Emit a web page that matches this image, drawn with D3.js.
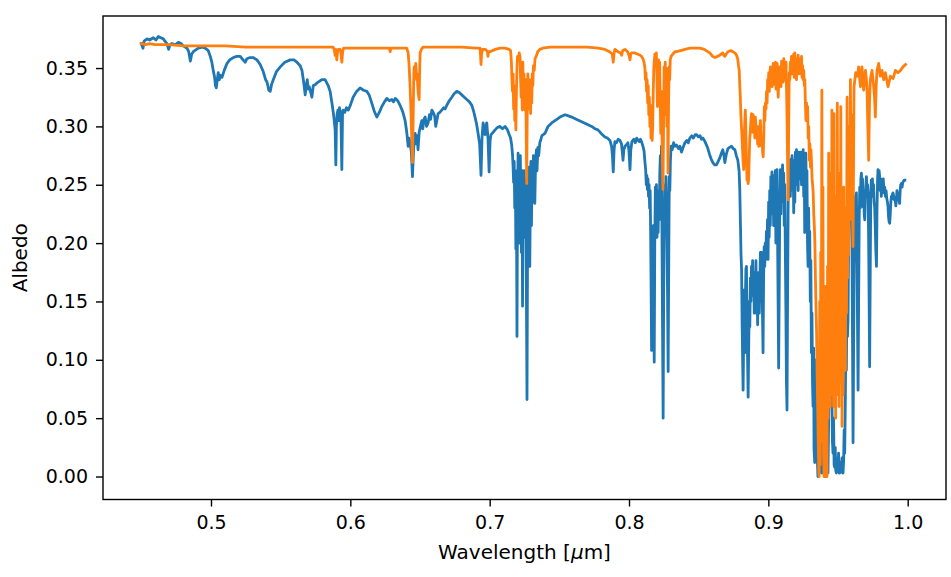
<!DOCTYPE html>
<html>
<head>
<meta charset="utf-8">
<script src="https://cdn.jsdelivr.net/npm/d3@7"></script>
<style>
  body { margin: 0; background: #ffffff; }
  svg text { font-family: "DejaVu Sans", sans-serif; fill: #000; }
</style>
</head>
<body>
<svg id="chart" width="951" height="577"></svg>
<script>
// Reflectance spectra: [wavelength in µm, albedo]
const spectrumBlue = [
  [0.4500,0.371],[0.4512,0.367],[0.4520,0.373],[0.4541,0.375],[0.4560,0.374],[0.4586,0.376],[0.4605,0.374],
  [0.4622,0.377],[0.4640,0.376],[0.4658,0.375],[0.4670,0.373],[0.4684,0.371],[0.4696,0.366],[0.4706,0.370],
  [0.4720,0.371],[0.4745,0.370],[0.4766,0.372],[0.4785,0.371],[0.4801,0.369],[0.4828,0.367],[0.4840,0.364],
  [0.4852,0.356],[0.4862,0.362],[0.4873,0.364],[0.4909,0.367],[0.4935,0.368],[0.4959,0.367],[0.4980,0.365],
  [0.4995,0.360],[0.5006,0.355],[0.5016,0.348],[0.5026,0.342],[0.5032,0.335],[0.5038,0.333],[0.5045,0.340],
  [0.5052,0.346],[0.5060,0.340],[0.5066,0.344],[0.5079,0.342],[0.5095,0.348],[0.5115,0.354],[0.5135,0.357],
  [0.5160,0.359],[0.5185,0.360],[0.5210,0.360],[0.5230,0.357],[0.5246,0.355],[0.5258,0.358],[0.5280,0.359],
  [0.5303,0.359],[0.5330,0.357],[0.5353,0.353],[0.5375,0.347],[0.5392,0.340],[0.5402,0.338],[0.5415,0.331],
  [0.5425,0.330],[0.5435,0.336],[0.5447,0.340],[0.5470,0.347],[0.5497,0.351],[0.5530,0.355],[0.5569,0.357],
  [0.5595,0.357],[0.5617,0.355],[0.5640,0.352],[0.5653,0.348],[0.5665,0.338],[0.5676,0.327],[0.5683,0.335],
  [0.5691,0.340],[0.5698,0.332],[0.5705,0.334],[0.5714,0.330],[0.5724,0.325],[0.5734,0.335],[0.5750,0.336],
  [0.5769,0.338],[0.5795,0.340],[0.5819,0.340],[0.5841,0.335],[0.5855,0.330],[0.5868,0.320],[0.5880,0.310],
  [0.5891,0.297],[0.5896,0.267],[0.5900,0.300],[0.5905,0.310],[0.5911,0.314],[0.5917,0.305],[0.5922,0.316],
  [0.5927,0.313],[0.5933,0.305],[0.5939,0.263],[0.5944,0.310],[0.5949,0.314],[0.5960,0.312],[0.5972,0.316],
  [0.5985,0.314],[0.6000,0.318],[0.6020,0.325],[0.6045,0.330],[0.6070,0.333],[0.6095,0.331],[0.6119,0.330],
  [0.6135,0.327],[0.6154,0.320],[0.6172,0.313],[0.6190,0.308],[0.6208,0.312],[0.6226,0.317],[0.6245,0.321],
  [0.6262,0.324],[0.6280,0.322],[0.6298,0.323],[0.6310,0.321],[0.6322,0.324],[0.6340,0.322],[0.6357,0.318],
  [0.6375,0.313],[0.6393,0.305],[0.6405,0.295],[0.6415,0.283],[0.6422,0.290],[0.6429,0.286],[0.6438,0.278],
  [0.6446,0.257],[0.6452,0.275],[0.6458,0.290],[0.6465,0.294],[0.6472,0.285],[0.6479,0.292],[0.6486,0.280],
  [0.6494,0.295],[0.6503,0.300],[0.6513,0.305],[0.6520,0.298],[0.6528,0.306],[0.6537,0.308],[0.6547,0.300],
  [0.6558,0.303],[0.6568,0.310],[0.6576,0.306],[0.6585,0.314],[0.6595,0.312],[0.6605,0.309],[0.6613,0.300],
  [0.6621,0.305],[0.6630,0.311],[0.6642,0.312],[0.6656,0.314],[0.6670,0.316],[0.6680,0.315],[0.6692,0.318],
  [0.6710,0.322],[0.6728,0.325],[0.6745,0.328],[0.6764,0.330],[0.6782,0.329],[0.6800,0.327],[0.6818,0.325],
  [0.6836,0.323],[0.6855,0.321],[0.6872,0.318],[0.6885,0.313],[0.6895,0.308],[0.6906,0.302],[0.6917,0.294],
  [0.6928,0.285],[0.6938,0.258],[0.6945,0.290],[0.6953,0.303],[0.6960,0.298],[0.6967,0.293],[0.6973,0.300],
  [0.6979,0.303],[0.6988,0.290],[0.6996,0.261],[0.7003,0.288],[0.7010,0.293],[0.7025,0.295],[0.7039,0.297],
  [0.7055,0.299],[0.7074,0.300],[0.7092,0.298],[0.7110,0.300],[0.7128,0.297],[0.7140,0.293],
  // 0.72 µm band
  [0.7150,0.290],[0.7158,0.284],[0.7164,0.276],[0.7168,0.266],[0.7172,0.252],[0.7176,0.270],[0.7180,0.230],
  [0.7184,0.262],[0.7188,0.195],[0.7192,0.250],[0.7196,0.120],[0.7200,0.240],[0.7204,0.277],[0.7208,0.210],
  [0.7212,0.268],[0.7216,0.200],[0.7220,0.275],[0.7224,0.230],[0.7228,0.192],[0.7232,0.262],[0.7236,0.146],
  [0.7240,0.250],[0.7244,0.205],[0.7248,0.262],[0.7252,0.215],[0.7256,0.255],[0.7260,0.220],[0.7264,0.150],
  [0.7268,0.066],[0.7272,0.200],[0.7276,0.250],[0.7280,0.190],[0.7284,0.265],[0.7288,0.180],[0.7292,0.240],
  [0.7296,0.270],[0.7300,0.215],[0.7304,0.263],[0.7308,0.235],[0.7314,0.275],[0.7318,0.250],[0.7324,0.234],
  [0.7330,0.272],[0.7336,0.280],[0.7340,0.262],[0.7346,0.282],[0.7352,0.275],[0.7360,0.286],[0.7368,0.289],
  [0.7375,0.292],
  [0.7397,0.294],[0.7419,0.300],[0.7445,0.303],[0.7469,0.305],[0.7505,0.308],[0.7541,0.310],[0.7565,0.309],
  [0.7589,0.308],[0.7625,0.306],[0.7660,0.304],[0.7695,0.302],[0.7732,0.300],[0.7755,0.298],[0.7777,0.297],
  [0.7800,0.294],[0.7827,0.291],[0.7845,0.290],[0.7863,0.288],[0.7870,0.285],[0.7875,0.283],[0.7881,0.275],
  [0.7887,0.261],[0.7893,0.280],[0.7899,0.287],[0.7910,0.286],[0.7922,0.289],[0.7935,0.288],[0.7946,0.285],
  [0.7952,0.278],[0.7957,0.271],[0.7963,0.280],[0.7971,0.283],[0.7980,0.284],[0.7992,0.286],[0.7999,0.280],
  [0.8003,0.272],[0.8007,0.263],[0.8013,0.280],[0.8021,0.287],[0.8035,0.289],[0.8045,0.286],[0.8055,0.290],
  [0.8065,0.288],[0.8075,0.287],[0.8082,0.289],
  // 0.82 µm band
  [0.8090,0.287],[0.8100,0.283],[0.8108,0.279],[0.8114,0.270],[0.8120,0.262],[0.8124,0.250],[0.8128,0.258],
  [0.8132,0.246],[0.8136,0.255],[0.8140,0.240],[0.8144,0.250],[0.8148,0.230],[0.8152,0.245],[0.8156,0.200],
  [0.8160,0.140],[0.8162,0.108],[0.8166,0.190],[0.8170,0.163],[0.8174,0.215],[0.8178,0.140],[0.8181,0.098],
  [0.8185,0.200],[0.8189,0.248],[0.8193,0.215],[0.8197,0.250],[0.8201,0.205],[0.8205,0.240],[0.8209,0.209],
  [0.8213,0.245],[0.8217,0.220],[0.8221,0.260],[0.8225,0.275],[0.8229,0.230],[0.8233,0.283],[0.8237,0.200],
  [0.8241,0.120],[0.8245,0.050],[0.8249,0.160],[0.8253,0.220],[0.8257,0.250],[0.8261,0.225],[0.8265,0.257],
  [0.8269,0.240],[0.8273,0.200],[0.8277,0.150],[0.8281,0.090],[0.8285,0.180],[0.8289,0.257],[0.8293,0.245],
  [0.8297,0.270],[0.8302,0.283],[0.8310,0.280],[0.8320,0.286],[0.8330,0.283],[0.8341,0.284],
  [0.8355,0.281],[0.8365,0.283],[0.8377,0.278],[0.8388,0.282],[0.8401,0.286],[0.8415,0.288],[0.8425,0.286],
  [0.8437,0.290],[0.8450,0.292],[0.8462,0.290],[0.8475,0.293],[0.8485,0.293],[0.8498,0.291],[0.8510,0.292],
  [0.8520,0.289],[0.8530,0.290],[0.8545,0.287],[0.8556,0.284],[0.8566,0.281],[0.8578,0.276],[0.8590,0.272],
  [0.8602,0.269],[0.8615,0.267],[0.8628,0.267],[0.8640,0.270],[0.8652,0.273],[0.8663,0.277],[0.8673,0.280],
  [0.8680,0.276],[0.8688,0.269],[0.8698,0.276],[0.8710,0.281],[0.8722,0.282],[0.8736,0.283],[0.8748,0.281],
  [0.8760,0.280],
  // 0.89-1.0 µm water bands
  [0.8770,0.275],[0.8781,0.271],[0.8790,0.262],[0.8795,0.246],[0.8800,0.215],[0.8804,0.190],[0.8808,0.177],
  [0.8812,0.130],[0.8816,0.095],[0.8819,0.074],[0.8823,0.120],[0.8827,0.160],[0.8831,0.106],[0.8835,0.150],
  [0.8839,0.178],[0.8843,0.180],[0.8847,0.130],[0.8851,0.100],[0.8855,0.068],[0.8859,0.110],[0.8863,0.150],
  [0.8867,0.128],[0.8871,0.170],[0.8875,0.150],[0.8879,0.180],[0.8883,0.155],[0.8887,0.185],[0.8891,0.157],
  [0.8895,0.175],[0.8899,0.140],[0.8903,0.174],[0.8907,0.150],[0.8911,0.185],[0.8915,0.140],[0.8919,0.170],
  [0.8923,0.130],[0.8927,0.160],[0.8931,0.175],[0.8935,0.140],[0.8939,0.165],[0.8943,0.192],[0.8947,0.150],
  [0.8951,0.192],[0.8955,0.170],[0.8959,0.130],[0.8962,0.106],[0.8966,0.170],[0.8970,0.197],[0.8974,0.180],
  [0.8978,0.200],[0.8982,0.186],[0.8986,0.210],[0.8990,0.190],[0.8994,0.220],[0.8998,0.186],[0.9002,0.235],
  [0.9006,0.205],[0.9010,0.245],[0.9014,0.215],[0.9018,0.257],[0.9022,0.225],[0.9026,0.261],[0.9030,0.230],
  [0.9034,0.258],[0.9038,0.215],[0.9042,0.250],[0.9046,0.226],[0.9050,0.262],[0.9054,0.200],[0.9058,0.245],
  [0.9062,0.263],[0.9066,0.210],[0.9070,0.150],[0.9074,0.093],[0.9078,0.160],[0.9082,0.230],[0.9086,0.263],
  [0.9090,0.225],[0.9094,0.263],[0.9098,0.240],[0.9102,0.267],[0.9106,0.235],[0.9110,0.260],[0.9114,0.215],
  [0.9118,0.250],[0.9122,0.192],[0.9126,0.140],[0.9130,0.080],[0.9134,0.057],[0.9138,0.150],[0.9142,0.231],
  [0.9146,0.270],[0.9150,0.245],[0.9154,0.271],[0.9158,0.240],[0.9162,0.272],[0.9166,0.250],[0.9170,0.275],
  [0.9174,0.245],[0.9178,0.271],[0.9182,0.226],[0.9186,0.265],[0.9190,0.235],[0.9194,0.278],[0.9198,0.250],
  [0.9202,0.280],[0.9206,0.255],[0.9210,0.271],[0.9214,0.245],[0.9218,0.278],[0.9222,0.255],[0.9226,0.271],
  [0.9230,0.255],[0.9234,0.278],[0.9238,0.250],[0.9242,0.272],[0.9246,0.262],[0.9250,0.280],[0.9254,0.240],
  [0.9258,0.262],[0.9261,0.209],[0.9265,0.250],[0.9269,0.277],[0.9273,0.240],[0.9277,0.262],[0.9281,0.200],
  [0.9285,0.180],[0.9289,0.230],[0.9293,0.192],[0.9297,0.210],[0.9301,0.150],[0.9305,0.185],[0.9309,0.106],
  [0.9313,0.140],[0.9317,0.080],[0.9321,0.060],[0.9325,0.110],[0.9328,0.023],[0.9333,0.012],[0.9337,0.060],
  [0.9341,0.100],[0.9345,0.077],[0.9349,0.030],[0.9353,0.010],[0.9356,0.000],[0.9360,0.040],[0.9364,0.020],
  [0.9369,0.060],[0.9373,0.010],[0.9377,0.035],[0.9381,0.003],[0.9385,0.050],[0.9389,0.090],[0.9392,0.063],
  [0.9396,0.020],[0.9400,0.002],[0.9405,0.000],[0.9409,0.045],[0.9413,0.070],[0.9417,0.034],[0.9421,0.010],
  [0.9425,0.050],[0.9428,0.003],[0.9432,0.040],[0.9436,0.080],[0.9441,0.066],[0.9445,0.120],[0.9449,0.080],
  [0.9453,0.106],[0.9457,0.060],[0.9460,0.030],[0.9464,0.020],[0.9468,0.050],[0.9472,0.010],[0.9476,0.008],
  [0.9480,0.025],[0.9484,0.005],[0.9488,0.003],[0.9492,0.015],[0.9496,0.004],[0.9500,0.008],[0.9504,0.020],
  [0.9508,0.003],[0.9512,0.003],[0.9516,0.012],[0.9520,0.004],[0.9525,0.008],[0.9529,0.016],[0.9533,0.003],
  [0.9536,0.003],[0.9540,0.012],[0.9544,0.040],[0.9548,0.020],[0.9552,0.060],[0.9556,0.110],[0.9560,0.091],
  [0.9564,0.160],[0.9568,0.120],[0.9572,0.134],[0.9576,0.200],[0.9580,0.230],[0.9584,0.248],[0.9588,0.225],
  [0.9592,0.255],[0.9596,0.260],[0.9600,0.200],[0.9604,0.120],[0.9608,0.029],[0.9612,0.110],[0.9616,0.180],
  [0.9620,0.205],[0.9624,0.240],[0.9628,0.220],[0.9632,0.243],[0.9636,0.200],[0.9640,0.130],[0.9644,0.074],
  [0.9648,0.150],[0.9652,0.220],[0.9656,0.248],[0.9660,0.230],[0.9664,0.255],[0.9668,0.260],[0.9672,0.240],
  [0.9676,0.255],[0.9680,0.231],[0.9684,0.245],[0.9688,0.225],[0.9692,0.220],[0.9696,0.240],[0.9700,0.250],
  [0.9704,0.257],[0.9708,0.240],[0.9712,0.250],[0.9716,0.243],[0.9720,0.200],[0.9724,0.140],[0.9727,0.094],
  [0.9731,0.170],[0.9735,0.240],[0.9739,0.254],[0.9743,0.245],[0.9747,0.255],[0.9751,0.240],[0.9755,0.250],
  [0.9759,0.235],[0.9763,0.231],[0.9767,0.215],[0.9771,0.195],[0.9776,0.180],[0.9780,0.230],[0.9784,0.255],
  [0.9787,0.263],[0.9791,0.250],[0.9795,0.262],[0.9799,0.257],[0.9803,0.245],[0.9807,0.255],[0.9811,0.240],
  [0.9815,0.250],[0.9820,0.245],[0.9825,0.255],[0.9830,0.243],[0.9835,0.248],[0.9840,0.240],[0.9845,0.245],
  [0.9850,0.238],[0.9855,0.235],[0.9859,0.231],[0.9863,0.222],[0.9867,0.218],[0.9871,0.217],[0.9875,0.225],
  [0.9879,0.235],[0.9883,0.240],[0.9887,0.238],[0.9891,0.242],[0.9895,0.243],[0.9900,0.240],[0.9905,0.237],
  [0.9910,0.238],[0.9915,0.232],[0.9919,0.237],[0.9923,0.245],[0.9927,0.240],[0.9930,0.243],[0.9935,0.240],
  [0.9939,0.236],[0.9942,0.234],[0.9946,0.245],[0.9950,0.250],[0.9955,0.251],[0.9960,0.248],[0.9965,0.252],
  [0.9970,0.253],[0.9975,0.254],[0.9980,0.254]
];

const spectrumOrange = [
  [0.4500,0.371],[0.4530,0.370],[0.4560,0.371],[0.4600,0.370],[0.4650,0.370],[0.4700,0.370],[0.4800,0.369],
  [0.4900,0.369],[0.5000,0.369],[0.5100,0.369],[0.5250,0.368],[0.5400,0.368],[0.5550,0.368],[0.5700,0.368],
  [0.5800,0.368],[0.5877,0.368],[0.5884,0.366],[0.5891,0.361],[0.5897,0.366],[0.5903,0.357],[0.5909,0.365],
  [0.5915,0.366],[0.5927,0.366],[0.5933,0.362],[0.5939,0.355],[0.5945,0.364],[0.5951,0.367],[0.6000,0.367],
  [0.6100,0.367],[0.6200,0.367],[0.6280,0.367],[0.6286,0.364],[0.6292,0.367],[0.6350,0.367],[0.6405,0.367],
  [0.6415,0.363],[0.6422,0.352],[0.6429,0.334],[0.6436,0.310],[0.6442,0.285],[0.6446,0.269],[0.6450,0.300],
  [0.6455,0.340],[0.6458,0.351],[0.6464,0.345],[0.6470,0.354],[0.6476,0.340],[0.6480,0.345],[0.6484,0.334],
  [0.6488,0.328],[0.6494,0.323],[0.6497,0.345],[0.6501,0.363],[0.6510,0.366],[0.6522,0.368],[0.6600,0.368],
  [0.6700,0.368],[0.6800,0.368],[0.6900,0.367],[0.6931,0.367],[0.6935,0.360],[0.6938,0.353],[0.6942,0.362],
  [0.6949,0.366],[0.6970,0.366],[0.6984,0.364],[0.6988,0.360],[0.6992,0.364],[0.7003,0.364],[0.7040,0.366],
  [0.7074,0.367],[0.7110,0.367],[0.7140,0.366],
  // 0.72 µm band
  [0.7150,0.365],[0.7156,0.355],[0.7160,0.340],[0.7164,0.330],[0.7168,0.345],[0.7172,0.315],[0.7176,0.335],
  [0.7180,0.305],[0.7184,0.325],[0.7188,0.297],[0.7192,0.330],[0.7196,0.350],[0.7200,0.360],[0.7206,0.357],
  [0.7212,0.363],[0.7218,0.360],[0.7222,0.340],[0.7226,0.325],[0.7230,0.345],[0.7234,0.314],[0.7238,0.355],
  [0.7242,0.330],[0.7246,0.345],[0.7250,0.320],[0.7254,0.314],[0.7258,0.340],[0.7262,0.300],[0.7266,0.251],
  [0.7270,0.320],[0.7274,0.345],[0.7278,0.325],[0.7282,0.340],[0.7286,0.315],[0.7290,0.335],[0.7294,0.311],
  [0.7298,0.340],[0.7302,0.320],[0.7306,0.345],[0.7310,0.335],[0.7314,0.352],[0.7320,0.348],[0.7326,0.358],
  [0.7334,0.360],[0.7345,0.364],[0.7360,0.366],[0.7380,0.367],
  [0.7433,0.368],[0.7550,0.368],[0.7700,0.368],[0.7780,0.367],[0.7827,0.366],[0.7860,0.364],[0.7880,0.362],
  [0.7887,0.355],[0.7893,0.363],[0.7899,0.366],[0.7920,0.364],[0.7940,0.363],[0.7947,0.361],[0.7955,0.365],
  [0.7971,0.366],[0.7990,0.364],[0.8002,0.360],[0.8007,0.357],[0.8013,0.362],[0.8019,0.363],[0.8040,0.363],
  [0.8060,0.362],[0.8080,0.361],
  // 0.82 µm band
  [0.8090,0.360],[0.8100,0.358],[0.8108,0.355],[0.8114,0.350],[0.8118,0.340],[0.8122,0.346],[0.8126,0.330],
  [0.8130,0.340],[0.8134,0.320],[0.8138,0.335],[0.8142,0.310],[0.8146,0.325],[0.8150,0.300],[0.8154,0.318],
  [0.8158,0.290],[0.8162,0.310],[0.8166,0.288],[0.8170,0.300],[0.8174,0.330],[0.8178,0.350],[0.8182,0.357],
  [0.8186,0.362],[0.8190,0.355],[0.8196,0.363],[0.8200,0.345],[0.8204,0.317],[0.8208,0.340],[0.8212,0.357],
  [0.8216,0.345],[0.8220,0.355],[0.8224,0.320],[0.8228,0.294],[0.8232,0.330],[0.8236,0.300],[0.8240,0.270],
  [0.8244,0.246],[0.8248,0.300],[0.8252,0.351],[0.8256,0.330],[0.8260,0.355],[0.8264,0.310],[0.8268,0.350],
  [0.8272,0.300],[0.8276,0.340],[0.8280,0.260],[0.8284,0.320],[0.8288,0.351],[0.8292,0.340],[0.8296,0.357],
  [0.8302,0.360],[0.8315,0.362],[0.8330,0.364],
  [0.8341,0.364],[0.8370,0.365],[0.8401,0.366],[0.8437,0.367],[0.8470,0.367],[0.8508,0.367],[0.8540,0.366],
  [0.8565,0.364],[0.8580,0.363],[0.8600,0.360],[0.8616,0.359],[0.8635,0.360],[0.8652,0.361],[0.8673,0.363],
  [0.8680,0.361],[0.8688,0.360],[0.8698,0.362],[0.8710,0.364],[0.8730,0.365],[0.8745,0.364],[0.8760,0.363],
  // 0.89-1.0 µm water bands
  [0.8772,0.361],[0.8780,0.358],[0.8786,0.352],[0.8791,0.348],[0.8795,0.335],[0.8799,0.325],[0.8803,0.310],
  [0.8807,0.300],[0.8811,0.291],[0.8815,0.280],[0.8819,0.270],[0.8823,0.263],[0.8827,0.290],[0.8831,0.305],
  [0.8835,0.314],[0.8839,0.295],[0.8843,0.270],[0.8847,0.254],[0.8851,0.260],[0.8855,0.251],[0.8859,0.255],
  [0.8863,0.275],[0.8867,0.290],[0.8871,0.297],[0.8875,0.305],[0.8879,0.311],[0.8883,0.300],[0.8887,0.295],
  [0.8891,0.310],[0.8895,0.297],[0.8899,0.305],[0.8903,0.290],[0.8907,0.308],[0.8911,0.300],[0.8915,0.291],
  [0.8919,0.300],[0.8923,0.285],[0.8927,0.295],[0.8931,0.283],[0.8935,0.300],[0.8939,0.295],[0.8943,0.305],
  [0.8947,0.290],[0.8951,0.283],[0.8955,0.290],[0.8959,0.278],[0.8963,0.274],[0.8967,0.290],[0.8971,0.317],
  [0.8975,0.305],[0.8979,0.320],[0.8983,0.315],[0.8987,0.330],[0.8991,0.320],[0.8995,0.340],[0.8999,0.335],
  [0.9003,0.346],[0.9007,0.330],[0.9011,0.345],[0.9015,0.351],[0.9019,0.338],[0.9023,0.348],[0.9027,0.334],
  [0.9031,0.345],[0.9035,0.354],[0.9039,0.336],[0.9043,0.350],[0.9047,0.340],[0.9051,0.355],[0.9055,0.332],
  [0.9059,0.350],[0.9063,0.354],[0.9067,0.335],[0.9071,0.325],[0.9075,0.345],[0.9079,0.351],[0.9083,0.335],
  [0.9087,0.350],[0.9091,0.334],[0.9095,0.356],[0.9099,0.342],[0.9103,0.352],[0.9107,0.338],[0.9111,0.358],
  [0.9115,0.340],[0.9119,0.350],[0.9123,0.340],[0.9127,0.355],[0.9131,0.330],[0.9135,0.300],[0.9139,0.260],
  [0.9142,0.237],[0.9146,0.300],[0.9150,0.346],[0.9154,0.340],[0.9158,0.355],[0.9162,0.345],[0.9166,0.360],
  [0.9170,0.345],[0.9174,0.355],[0.9178,0.348],[0.9182,0.362],[0.9186,0.342],[0.9190,0.363],[0.9194,0.345],
  [0.9198,0.355],[0.9202,0.340],[0.9206,0.358],[0.9210,0.350],[0.9214,0.361],[0.9218,0.345],[0.9222,0.352],
  [0.9226,0.346],[0.9230,0.358],[0.9234,0.345],[0.9238,0.360],[0.9242,0.342],[0.9246,0.352],[0.9250,0.340],
  [0.9254,0.348],[0.9258,0.335],[0.9262,0.340],[0.9266,0.320],[0.9270,0.305],[0.9274,0.320],[0.9278,0.305],
  [0.9282,0.317],[0.9286,0.290],[0.9290,0.300],[0.9294,0.271],[0.9298,0.285],[0.9302,0.265],[0.9306,0.280],
  [0.9310,0.269],[0.9314,0.255],[0.9318,0.250],[0.9322,0.243],[0.9326,0.225],[0.9330,0.215],[0.9334,0.200],
  [0.9338,0.170],[0.9342,0.145],[0.9346,0.125],[0.9350,0.090],[0.9354,0.060],[0.9358,0.030],[0.9362,0.005],
  [0.9365,0.000],[0.9369,0.150],[0.9373,0.010],[0.9376,0.192],[0.9380,0.030],[0.9384,0.331],[0.9388,0.120],
  [0.9392,0.248],[0.9396,0.020],[0.9400,0.000],[0.9404,0.160],[0.9408,0.010],[0.9411,0.163],[0.9415,0.000],
  [0.9418,0.120],[0.9421,0.000],[0.9425,0.180],[0.9429,0.050],[0.9433,0.277],[0.9437,0.080],[0.9441,0.230],
  [0.9445,0.060],[0.9449,0.260],[0.9453,0.090],[0.9456,0.314],[0.9460,0.070],[0.9464,0.220],[0.9468,0.060],
  [0.9471,0.311],[0.9475,0.080],[0.9479,0.240],[0.9483,0.050],[0.9487,0.210],[0.9491,0.070],[0.9495,0.320],
  [0.9499,0.090],[0.9503,0.260],[0.9507,0.060],[0.9511,0.240],[0.9515,0.080],[0.9520,0.317],[0.9524,0.090],
  [0.9527,0.210],[0.9529,0.043],[0.9533,0.180],[0.9537,0.070],[0.9541,0.248],[0.9545,0.100],[0.9549,0.200],
  [0.9553,0.091],[0.9557,0.230],[0.9561,0.140],[0.9565,0.325],[0.9569,0.170],[0.9573,0.280],[0.9577,0.190],
  [0.9581,0.300],[0.9585,0.220],[0.9589,0.340],[0.9593,0.260],[0.9597,0.310],[0.9600,0.277],[0.9604,0.230],
  [0.9608,0.197],[0.9612,0.280],[0.9615,0.334],[0.9627,0.346],[0.9639,0.343],[0.9648,0.351],[0.9661,0.334],
  [0.9672,0.351],[0.9684,0.331],[0.9697,0.348],[0.9708,0.334],[0.9714,0.300],[0.9720,0.271],[0.9726,0.320],
  [0.9732,0.340],[0.9744,0.348],[0.9756,0.334],[0.9762,0.325],[0.9768,0.308],[0.9774,0.335],[0.9780,0.348],
  [0.9792,0.354],[0.9804,0.343],[0.9816,0.348],[0.9828,0.340],[0.9840,0.346],[0.9859,0.334],[0.9876,0.343],
  [0.9895,0.341],[0.9912,0.348],[0.9930,0.346],[0.9949,0.348],[0.9966,0.351],[0.9985,0.353]
];

const xTickValues = [0.5, 0.6, 0.7, 0.8, 0.9, 1.0];
const yTickValues = [0.00, 0.05, 0.10, 0.15, 0.20, 0.25, 0.30, 0.35];
const seriesColors = ["#1f77b4", "#ff7f0e"];

const svg = d3.select("#chart");
const plot = { left: 103, right: 946, top: 16, bottom: 499.5 };

const x = d3.scaleLinear().domain([0.4225, 1.0275]).range([plot.left, plot.right]);
const y = d3.scaleLinear().domain([-0.0197, 0.3946]).range([plot.bottom, plot.top]);

// spectra
const line = d3.line().x(d => x(d[0])).y(d => y(d[1]));
svg.append("defs").append("clipPath").attr("id", "plotClip")
  .append("rect").attr("x", plot.left).attr("y", plot.top)
  .attr("width", plot.right - plot.left).attr("height", plot.bottom - plot.top);

const lines = svg.append("g").attr("clip-path", "url(#plotClip)");
[spectrumBlue, spectrumOrange].forEach((s, i) => {
  lines.append("path").datum(s)
    .attr("d", line)
    .attr("fill", "none")
    .attr("stroke", seriesColors[i])
    .attr("stroke-width", 2.8)
    .attr("stroke-linejoin", "round")
    .attr("stroke-linecap", "square");
});

// axes
const xAxis = d3.axisBottom(x).tickValues(xTickValues).tickFormat(d3.format(".1f"))
  .tickSize(7).tickPadding(9);
const yAxis = d3.axisLeft(y).tickValues(yTickValues).tickFormat(d3.format(".2f"))
  .tickSize(7).tickPadding(8);

const gx = svg.append("g").attr("transform", `translate(0,${plot.bottom})`).call(xAxis);
const gy = svg.append("g").attr("transform", `translate(${plot.left},0)`).call(yAxis);
[gx, gy].forEach(g => {
  g.select(".domain").remove();
  g.selectAll(".tick line").attr("stroke", "#000").attr("stroke-width", 1.4);
  g.selectAll(".tick text").attr("font-size", 19).attr("fill", "#000")
    .style("font-family", "'DejaVu Sans', sans-serif");
});

// frame
svg.append("rect")
  .attr("x", plot.left).attr("y", plot.top)
  .attr("width", plot.right - plot.left).attr("height", plot.bottom - plot.top)
  .attr("fill", "none").attr("stroke", "#000").attr("stroke-width", 1.4);

// axis titles
const xTitle = svg.append("text")
  .attr("x", (plot.left + plot.right) / 2).attr("y", 559)
  .attr("text-anchor", "middle").attr("font-size", 20);
xTitle.append("tspan").text("Wavelength [");
xTitle.append("tspan").attr("font-style", "italic").text("μ");
xTitle.append("tspan").text("m]");

svg.append("text")
  .attr("transform", `translate(27,${(plot.top + plot.bottom) / 2}) rotate(-90)`)
  .attr("text-anchor", "middle").attr("font-size", 20)
  .text("Albedo");
</script>
</body>
</html>
